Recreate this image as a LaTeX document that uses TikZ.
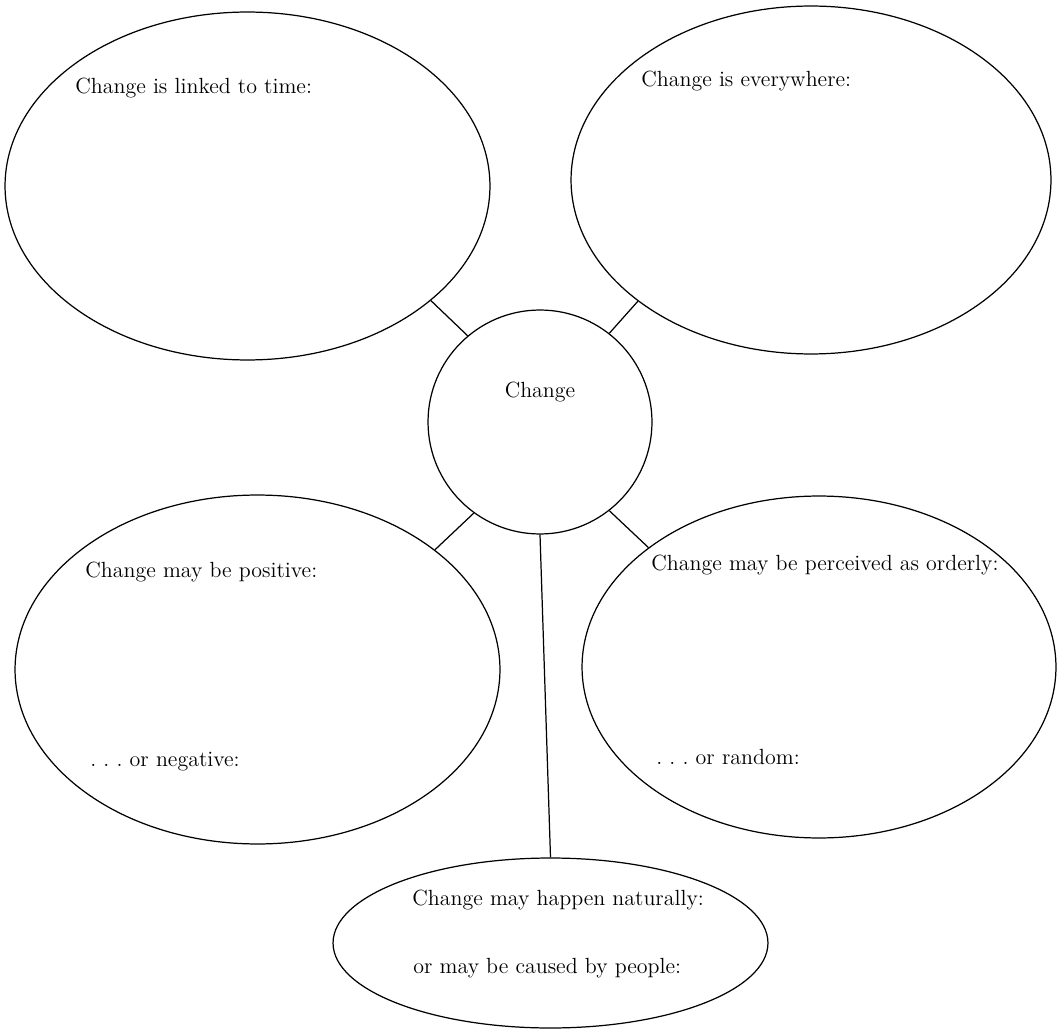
\documentclass[tikz,border=0pt]{standalone}
\usetikzlibrary{shapes.geometric}
\tikzset{
  bubble/.style={draw, ellipse, inner sep=0pt, line width=0.7pt},
  hub/.style={draw, circle, inner sep=0pt, line width=0.7pt},
  prompt/.style={anchor=west, inner sep=0pt, font=\fontsize{12.5}{14}\selectfont}
}
\begin{document}
\begin{tikzpicture}[x=0.02cm, y=-0.02cm]
      \useasboundingbox (0,0) rectangle (1058,1030);
      \draw
        (540,422) node[hub, minimum size=4.48cm] (change){}
        (247.5,186) node[bubble, minimum width=9.7cm, minimum height=6.96cm] (time){}
        (811,180) node[bubble, minimum width=9.6cm, minimum height=6.96cm] (where){}
        (257.5,669.5) node[bubble, minimum width=9.7cm, minimum height=6.98cm] (sign){}
        (819,667) node[bubble, minimum width=9.48cm, minimum height=6.84cm] (order){}
        (550.5,943) node[bubble, minimum width=8.7cm, minimum height=3.4cm] (cause){};
      \draw
        (540,392) node[prompt, anchor=center] (changetxt){Change}
        (75,88) node[prompt] (timetxt){Change is linked to time:}
        (641,81) node[prompt] (wheretxt){Change is everywhere:}
        (85,572) node[prompt] (postxt){Change may be positive:}
        (90,762) node[prompt] (negtxt){.~.~.~or negative:}
        (651,565) node[prompt] (ordertxt){Change may be perceived as orderly:}
        (656,757) node[prompt] (randtxt){.~.~.~or random:}
        (412,900) node[prompt] (naturetxt){Change may happen naturally:}
        (413,968) node[prompt] (peopletxt){or may be caused by people:};
      \begin{scope}[line width=0.7pt]
        \draw (time.-32) to (change.130);
        \draw (where.-145) to (change.52);
        \draw (sign.34) to (change.-126);
        \draw (order.145) to (change.-52);
        \draw (change.south) to (cause.north);
      \end{scope}
    \end{tikzpicture}
\end{document}
